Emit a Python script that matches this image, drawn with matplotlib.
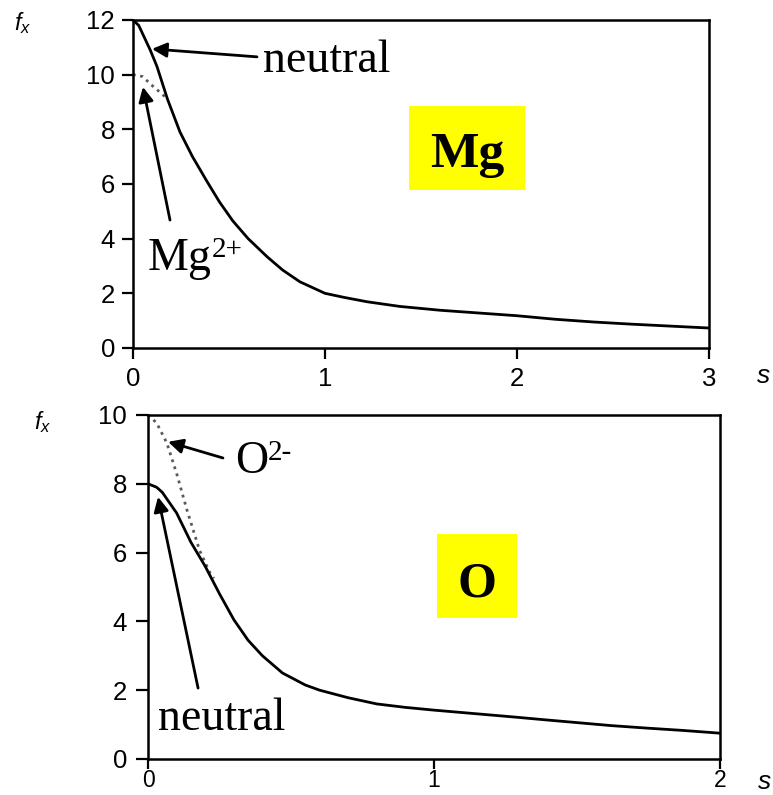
import matplotlib
matplotlib.use("Agg")
import matplotlib.pyplot as plt
from matplotlib.patches import Rectangle

plt.rcParams['mathtext.fontset'] = 'custom'
plt.rcParams['mathtext.rm'] = 'Liberation Sans'
plt.rcParams['mathtext.it'] = 'Liberation Sans:italic'
plt.rcParams['font.family'] = 'Liberation Sans'

# ---- data: Mg ----
mg_s = [0, 0.03, 0.05, 0.09, 0.125, 0.18, 0.245, 0.31, 0.385, 0.45, 0.52, 0.6, 0.7,
        0.78, 0.87, 1.0, 1.1, 1.22, 1.39, 1.6, 1.8, 2.0, 2.2, 2.4, 2.6, 2.8, 3.0]
mg_neutral = [12.0, 11.8, 11.5, 10.9, 10.3, 9.1, 7.9, 7.0, 6.1, 5.35, 4.65, 4.0, 3.33,
              2.85, 2.42, 2.0, 1.85, 1.69, 1.52, 1.38, 1.28, 1.18, 1.05, 0.95, 0.87, 0.8, 0.73]
mg_ion_s = [0, 0.05, 0.1, 0.15, 0.18]
mg_ion = [10.0, 9.93, 9.6, 9.3, 9.1]

# ---- data: O ----
o_s = [0, 0.03, 0.05, 0.1, 0.15, 0.2, 0.25, 0.3, 0.35, 0.4, 0.47, 0.55, 0.6, 0.7, 0.8,
       0.9, 1.0, 1.14, 1.28, 1.4, 1.51, 1.62, 1.74, 1.87, 2.0]
o_neutral = [8.0, 7.9, 7.75, 7.15, 6.3, 5.6, 4.8, 4.05, 3.45, 3.0, 2.5, 2.15, 2.0, 1.78, 1.6,
             1.5, 1.42, 1.32, 1.22, 1.13, 1.05, 0.97, 0.9, 0.83, 0.75]
o_ion_s = [0, 0.03, 0.066, 0.1, 0.136, 0.18, 0.217, 0.23]
o_ion = [10.0, 9.77, 9.18, 8.3, 7.24, 6.07, 5.4, 5.25]

mg_xticks = [0, 1, 2, 3]
mg_yticks = [0, 2, 4, 6, 8, 10, 12]
o_xticks = [0, 1, 2]
o_yticks = [0, 2, 4, 6, 8, 10]

fig = plt.figure(figsize=(7.73, 7.95), dpi=100)
ax1 = fig.add_axes([0.172, 0.5623, 0.745, 0.4126])
ax2 = fig.add_axes([0.1915, 0.0453, 0.740, 0.4327])

serif = 'Liberation Serif'
LBL = 33
SUP = 21

for ax in (ax1, ax2):
    for sp in ax.spines.values():
        sp.set_linewidth(1.8)
        sp.set_color('black')
    ax.tick_params(direction='out', length=8, width=1.6, top=False, right=False,
                   labelsize=18.5)

arrow = dict(arrowstyle='-|>', color='black', lw=2, mutation_scale=22,
             shrinkA=0, shrinkB=0)


def sup_label(ax, x, y, base, sup):
    t = ax.text(x, y, base, family=serif, fontsize=LBL, va='baseline', ha='left')
    ax.annotate(sup, xy=(1, 0), xycoords=t, xytext=(0, 16.5), textcoords='offset points',
                family=serif, fontsize=SUP, va='baseline', ha='left')


# Top: Mg
ax1.plot(mg_ion_s, mg_ion, linestyle=':', color='0.35', lw=2)
ax1.plot(mg_s, mg_neutral, color='black', lw=2)
ax1.set_xlim(0, 3)
ax1.set_ylim(0, 12)
ax1.set_xticks(mg_xticks)
ax1.set_yticks(mg_yticks)
ax1.set_xticklabels([str(v) for v in mg_xticks])
ax1.set_yticklabels([str(v) for v in mg_yticks])
ax1.tick_params(axis='x', pad=6)
ax1.tick_params(axis='y', pad=5)

ax1.annotate('', xy=(0.099, 10.94), xytext=(0.646, 10.65), arrowprops=arrow)
ax1.text(0.677, 10.1, 'neutral', family=serif, fontsize=LBL, va='baseline', ha='left')
ax1.annotate('', xy=(0.052, 9.55), xytext=(0.193, 4.68), arrowprops=arrow)
sup_label(ax1, 0.078, 2.85, 'Mg', '2+')
ax1.add_patch(Rectangle((1.4375, 5.78), 0.6045, 3.07, facecolor='#ffff00', edgecolor='none', zorder=1))
ax1.text(1.74, 6.62, 'Mg', family=serif, fontweight='bold', fontsize=37,
         va='baseline', ha='center', zorder=2)

# Bottom: O
ax2.plot(o_ion_s, o_ion, linestyle=':', color='0.35', lw=2)
ax2.plot(o_s, o_neutral, color='black', lw=2)
ax2.set_xlim(0, 2)
ax2.set_ylim(0, 10)
ax2.set_xticks(o_xticks)
ax2.set_yticks(o_yticks)
ax2.set_xticklabels([str(v) for v in o_xticks])
ax2.set_yticklabels([str(v) for v in o_yticks])
ax2.tick_params(axis='x', pad=0, length=7, labelsize=16.5)
ax2.tick_params(axis='y', pad=6, length=9)

ax2.annotate('', xy=(0.07, 9.22), xytext=(0.262, 8.75), arrowprops=arrow)
sup_label(ax2, 0.304, 8.31, 'O', '2-')
ax2.annotate('', xy=(0.035, 7.62), xytext=(0.175, 2.06), arrowprops=arrow)
ax2.text(0.035, 0.84, 'neutral', family=serif, fontsize=LBL, va='baseline', ha='left')
ax2.add_patch(Rectangle((1.01, 4.10), 0.28, 2.44, facecolor='#ffff00', edgecolor='none', zorder=1))
ax2.text(1.15, 4.71, 'O', family=serif, fontweight='bold', fontsize=36,
         va='baseline', ha='center', zorder=2)

# axis labels
fig.text(14 / 773, 1 - 30 / 795, r'$f_x$', fontsize=17, ha='left', va='baseline')
fig.text(34 / 773, 1 - 429 / 795, r'$f_x$', fontsize=17, ha='left', va='baseline')
fig.text(757 / 773, 1 - 383 / 795, 's', family='Liberation Sans', style='italic',
         fontsize=19, ha='left', va='baseline')
fig.text(758 / 773, 1 - 789 / 795, 's', family='Liberation Sans', style='italic',
         fontsize=19, ha='left', va='baseline')

fig.savefig('out.png', dpi=100)
